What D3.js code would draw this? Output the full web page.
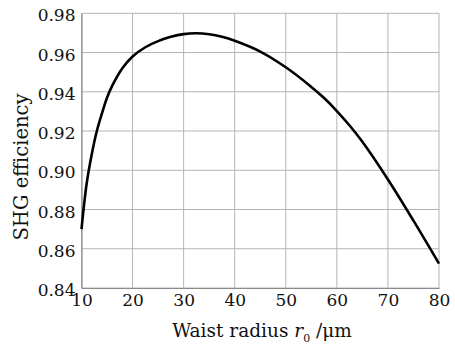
<!DOCTYPE html>
<html>
<head>
<meta charset="utf-8">
<script src="https://cdn.jsdelivr.net/npm/d3@7"></script>
<style>
  html, body { margin: 0; padding: 0; background: #fff; }
  svg { display: block; }
  text { font-family: "DejaVu Serif", serif; fill: #111; }
</style>
</head>
<body>
<svg id="chart" width="455" height="346"></svg>
<script>
// Data
const waistRadius = [10, 11, 12, 13, 14, 15, 16, 18, 20, 22.5, 25, 27.5, 30, 32.5, 35, 37.5, 40, 45, 50, 55, 57.5, 60, 62.5, 65, 70, 75, 80];
const shgEfficiency = [0.870, 0.893, 0.908, 0.920, 0.929, 0.937, 0.943, 0.952, 0.958, 0.9627, 0.9658, 0.968, 0.9694, 0.9698, 0.9693, 0.968, 0.966, 0.9605, 0.9525, 0.9425, 0.9368, 0.9302, 0.9228, 0.9145, 0.8953, 0.8743, 0.8524];
const xTicks = [10, 20, 30, 40, 50, 60, 70, 80];
const yTicks = [0.84, 0.86, 0.88, 0.90, 0.92, 0.94, 0.96, 0.98];

const FONT = "DejaVu Serif";
const svg = d3.select("#chart");
const margin = { left: 81.5, right: 16, top: 13.3, bottom: 58 };
const W = 455, H = 346;
const x = d3.scaleLinear().domain([10, 80]).range([margin.left, W - margin.right]);
const y = d3.scaleLinear().domain([0.84, 0.98]).range([H - margin.bottom, margin.top]);

// Grid
const g = svg.append("g");
g.selectAll("line.v").data(xTicks).join("line")
  .attr("x1", d => x(d)).attr("x2", d => x(d))
  .attr("y1", y(0.84)).attr("y2", y(0.98))
  .attr("stroke", "#b4b4b4").attr("stroke-width", 1);
g.selectAll("line.h").data(yTicks).join("line")
  .attr("x1", x(10)).attr("x2", x(80))
  .attr("y1", d => y(d)).attr("y2", d => y(d))
  .attr("stroke", "#b4b4b4").attr("stroke-width", 1);

const xAxis = d3.axisBottom(x).tickValues(xTicks).tickSize(0).tickPadding(6).tickFormat(d3.format("d"));
const yAxis = d3.axisLeft(y).tickValues(yTicks).tickSize(0).tickPadding(6).tickFormat(d3.format(".2f"));

const gx = svg.append("g").attr("transform", `translate(0,${y(0.84)})`).call(xAxis)
  .attr("font-family", FONT).attr("font-size", 17);
gx.select(".domain").attr("stroke", "#8a8a8a").attr("stroke-width", 1.2);
gx.selectAll("text").attr("fill", "#111").attr("dy", "0.72em");

const gy = svg.append("g").attr("transform", `translate(${x(10)},0)`).call(yAxis)
  .attr("font-family", FONT).attr("font-size", 17);
gy.select(".domain").attr("stroke", "#8a8a8a").attr("stroke-width", 1.2);
gy.selectAll("text").attr("fill", "#111").attr("dy", "0.45em");

// Curve
const line = d3.line()
  .x((d, i) => x(waistRadius[i]))
  .y(d => y(d))
  .curve(d3.curveCatmullRom.alpha(0.5));
svg.append("path")
  .datum(shgEfficiency)
  .attr("d", line)
  .attr("fill", "none")
  .attr("stroke", "#000")
  .attr("stroke-width", 2.6)
  .attr("stroke-linejoin", "round");

// Axis titles
const xt = svg.append("text")
  .attr("x", 262).attr("y", 337)
  .attr("text-anchor", "middle")
  .attr("font-family", FONT)
  .attr("font-size", 18.5);
xt.append("tspan").text("Waist radius ");
xt.append("tspan").attr("font-style", "italic").text("r");
xt.append("tspan").attr("font-size", 11).attr("dy", 5).text("0");
xt.append("tspan").attr("dy", -5).text(" /μm");

svg.append("text")
  .attr("transform", `translate(28,167) rotate(-90)`)
  .attr("text-anchor", "middle")
  .attr("font-family", FONT)
  .attr("font-size", 19.5)
  .text("SHG efficiency");
</script>
</body>
</html>
